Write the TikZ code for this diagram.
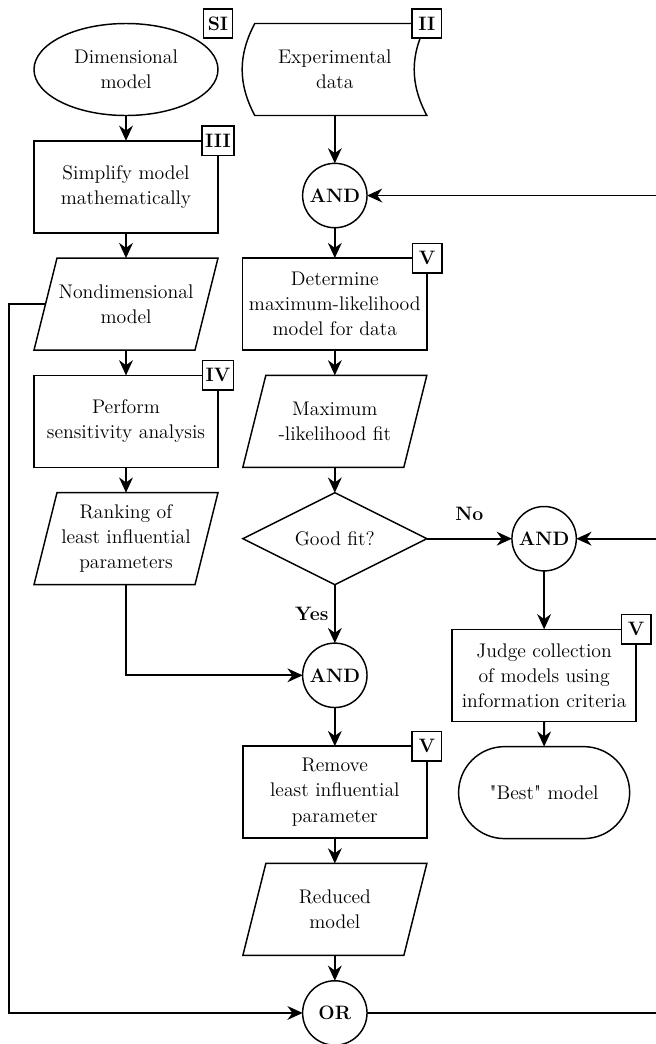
\documentclass[tikz,border=0pt,12pt]{standalone}
\usepackage{fontspec}
\setmainfont{Latin Modern Roman}[Ligatures=TeXOff]
\usepackage{tikz}
\usetikzlibrary{arrows.meta,positioning,shapes.geometric,shapes.misc,calc}

\begin{document}
\begin{tikzpicture}[
  node distance=0.55cm,
  every node/.style={outer sep=0pt},
  body/.style={align=center, font=\fontsize{12.2}{15.5}\selectfont, minimum width=4cm, minimum height=2cm},
  box/.style={rectangle, draw=black, line width=0.9pt, body},
  io/.style={rectangle, body},
  outline/.style={draw=black, line width=0.9pt},
  term/.style={ellipse, draw=black, line width=0.9pt, body},
  ending/.style={rounded rectangle, draw=black, line width=0.9pt, body},
  decision/.style={diamond, aspect=2, draw=black, line width=0.9pt, body, inner sep=0pt},
  gate/.style={circle, draw=black, line width=0.9pt, font=\bfseries, minimum size=1.4cm, inner sep=0pt},
  tagbox/.style={rectangle, draw=black, line width=0.9pt, fill=white, font=\bfseries, minimum size=0.64cm, inner sep=2pt},
  arrow/.style={-{Stealth[length=3.3mm, width=3mm]}, line width=1.1pt},
  link/.style={line width=1.1pt}
]
\useasboundingbox (-2.739,1.511) rectangle (11.522,-21.185);

% left column
\node[term] (dim) {Dimensional\\model};
\node[box, below=of dim] (simp) {Simplify model\\mathematically};
\node[io, below=of simp] (nondim) {Nondimensional\\model};
\node[box, below=of nondim] (perf) {Perform\\sensitivity analysis};
\node[io, below=of perf] (rank) {Ranking of\\least influential\\parameters};

% middle column
\node[io, right=0.54cm of dim] (data) {Experimental\\data};
\node[gate, below=1.04cm of data] (and1) {AND};
\node[box] (det) at (nondim -| data) {Determine\\maximum-likelihood\\model for data};
\node[io] (mlfit) at (perf -| data) {Maximum\\-likelihood fit};
\node[decision] (fit) at (rank -| data) {Good fit?};
\node[gate, below=1.27cm of fit] (and2) {AND};
\node[box, below=0.84cm of and2] (rem) {Remove\\least influential\\parameter};
\node[io, below=of rem] (red) {Reduced\\model};
\node[gate, below=of red] (or) {OR};

% right column
\node[gate, right=1.85cm of fit] (and3) {AND};
\node[box, below=1.27cm of and3] (judge) {Judge collection\\of models using\\information criteria};
\node[ending, below=of judge] (best) {"Best" model};

% parallelograms and the data shape
\foreach \n in {nondim, rank, mlfit, red}
  \draw[outline] ([xshift=0.5cm]\n.north west) -- (\n.north east) -- ([xshift=-0.5cm]\n.south east) -- (\n.south west) -- cycle;
\draw[outline] ([xshift=0.26cm]data.north west) to[bend right=28] ([xshift=0.26cm]data.south west) -- (data.south east) to[bend left=28] (data.north east) -- cycle;

% stage tags
\node[tagbox] (tagsi) at (dim.north -| simp.east) {SI};
\node[tagbox] (tagiii) at (simp.north east) {III};
\node[tagbox] (tagiv) at (perf.north east) {IV};
\node[tagbox] (tagii) at (data.north east) {II};
\node[tagbox] (tagdet) at (det.north east) {V};
\node[tagbox] (tagrem) at (rem.north east) {V};
\node[tagbox] (tagjudge) at (judge.north east) {V};

\coordinate (edge) at (11.522,0);

\draw[arrow] (dim) -- (simp);
\draw[arrow] (simp) -- (nondim);
\draw[arrow] (nondim) -- (perf);
\draw[arrow] (perf) -- (rank);
\draw[arrow] (data) -- (and1);
\draw[arrow] (and1) -- (det);
\draw[arrow] (det) -- (mlfit);
\draw[arrow] (mlfit) -- (fit);
\draw[arrow] (fit) -- node[midway, left, outer sep=0pt, inner sep=4pt, font=\bfseries] (yes) {Yes} (and2);
\draw[arrow] (fit) -- node[midway, above=7pt, font=\bfseries] (no) {No} (and3);
\draw[arrow] (and2) -- (rem);
\draw[arrow] (rem) -- (red);
\draw[arrow] (red) -- (or);
\draw[arrow] (and3) -- (judge);
\draw[arrow] (judge) -- (best);
\draw[arrow] (rank) |- (and2);
\draw[arrow] ([xshift=0.25cm]nondim.west) -- ++(-0.79,0) |- (or);
\draw[link] (or) -- (or -| edge);
\draw[arrow] (and1 -| edge) -- (and1);
\draw[arrow] (and3 -| edge) -- (and3);
\end{tikzpicture}
\end{document}
